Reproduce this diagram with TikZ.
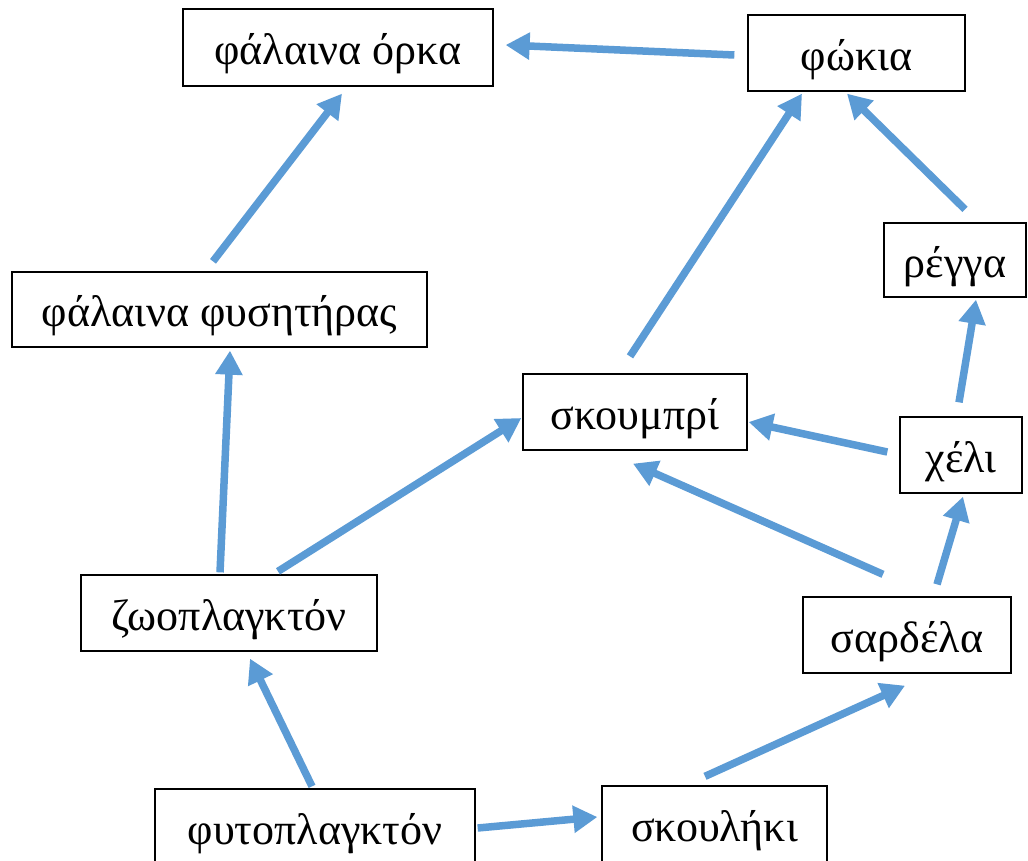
\documentclass[tikz,border=0pt]{standalone}
\usepackage{fontspec}
\setmainfont{Liberation Serif}
\usetikzlibrary{arrows.meta,calc}
\definecolor{arrblue}{HTML}{5B9BD5}
\tikzset{
  box/.style={draw=black,line width=1.3pt,fill=white,rectangle,inner sep=0pt,
    minimum height=76pt,text height=34pt,text depth=0pt,
    font=\fontsize{44}{52}\selectfont},
  arr/.style={draw=arrblue,line width=7.5pt,-{Triangle[length=24pt,width=26pt]}}
}
\begin{document}
\begin{tikzpicture}[x=1pt,y=-1pt]
\useasboundingbox (0,0) rectangle (1028,860);
\clip (0,0) rectangle (1028,860);
\fill[white] (0,0) rectangle (1028,860);

\node[box,minimum width=310pt,minimum height=77pt] (orka) at (338,47.5) {φάλαινα όρκα};
\node[box,minimum width=217pt] (fokia) at (856.5,53) {φώκια};
\node[box,minimum width=142pt,minimum height=74pt] (regga) at (955,260) {ρέγγα};
\node[box,minimum width=415pt,minimum height=75pt] (fysitiras) at (219.5,309.5) {φάλαινα φυσητήρας};
\node[box,minimum width=224pt] (skoumpri) at (635,412) {σκουμπρί};
\node[box,minimum width=122pt] (xeli) at (961,455) {χέλι};
\node[box,minimum width=296pt] (zoo) at (229,613) {ζωοπλαγκτόν};
\node[box,minimum width=208pt] (sardela) at (907,635) {σαρδέλα};
\node[box,minimum width=320pt] (fyto) at (315,827) {φυτοπλαγκτόν};
\node[box,minimum width=225pt] (skoulhki) at (714.5,824) {σκουλήκι};

\draw[arr] ($(fysitiras.north)+(-6.5,-10)$) -- ($(orka.south)+(4,7)$);
\draw[arr] ($(zoo.north)+(-9,-2)$) -- ($(fysitiras.south)+(10.5,3)$);
\draw[arr] ($(zoo.north)+(49,-3)$) -- ($(skoumpri.west)+(-1,6)$);
\draw[arr] ($(fyto.north)+(-3,-2)$) -- ($(zoo.south)+(21,7)$);
\draw[arr] ($(fyto.east)+(2,1)$) -- ($(skoulhki.west)+(-4,-7)$);
\draw[arr] ($(skoulhki.north)+(-9.5,-9)$) -- ($(sardela.south)+(-2,12)$);
\draw[arr] ($(sardela.north)+(-24,-22)$) -- ($(skoumpri.south)+(-2,13)$);
\draw[arr] ($(sardela.north)+(30,-12)$) -- ($(xeli.south)+(2,3)$);
\draw[arr] ($(xeli.west)+(-12,-3)$) -- ($(skoumpri.east)+(1,10)$);
\draw[arr] ($(xeli.north)+(-2,-14)$) -- ($(regga.south)+(21,2)$);
\draw[arr] ($(regga.north)+(10,-13)$) -- ($(fokia.south)+(-9.5,2)$);
\draw[arr] ($(skoumpri.north)+(-5,-17)$) -- ($(fokia.south)+(-54.5,2)$);
\draw[arr] ($(fokia.west)+(-13,2)$) -- ($(orka.east)+(12,-2.5)$);
\end{tikzpicture}
\end{document}
